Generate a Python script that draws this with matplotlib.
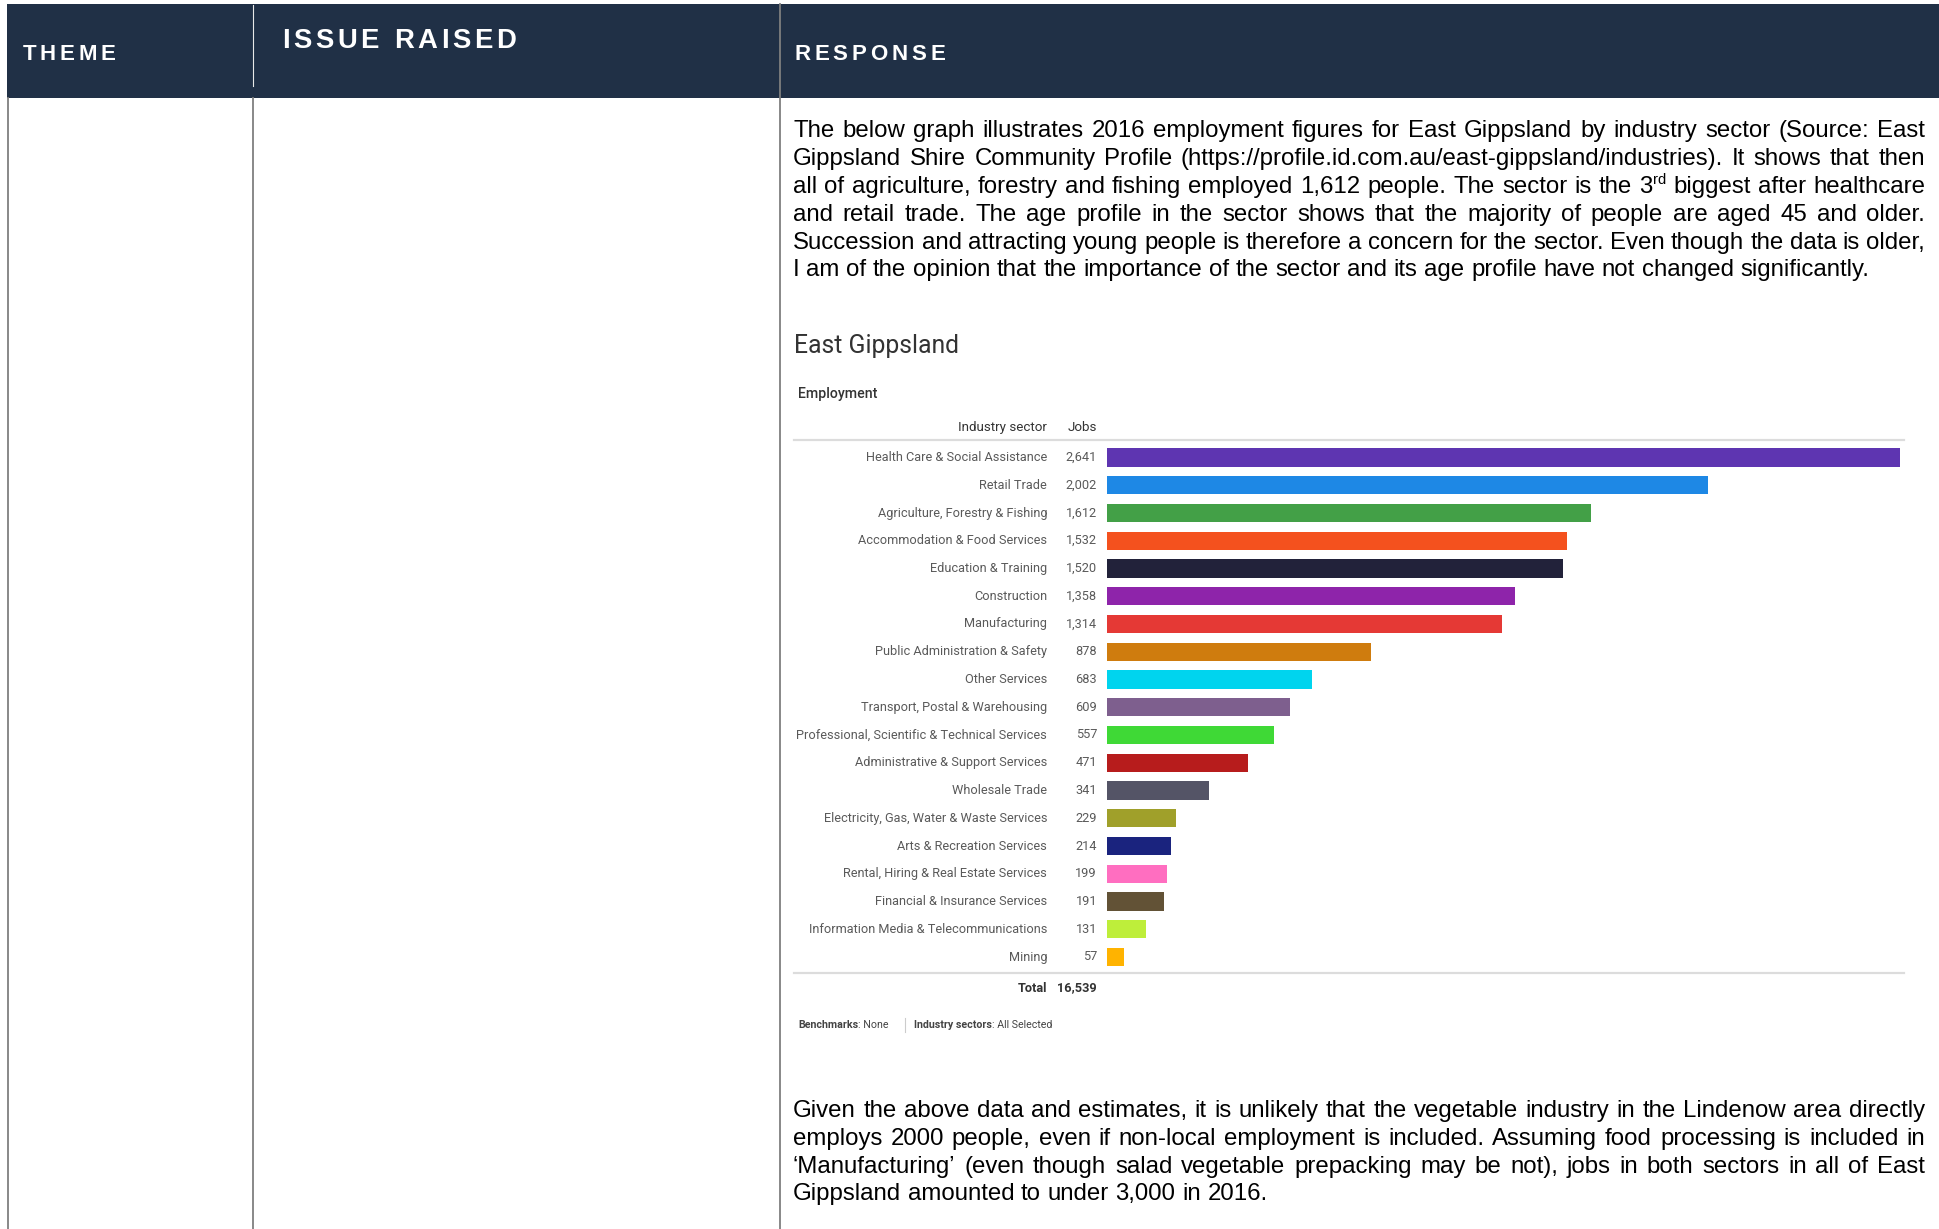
import matplotlib
matplotlib.use("Agg")
import matplotlib.pyplot as plt
from matplotlib.patches import Rectangle
from matplotlib.lines import Line2D

W, H = 1939, 1229
DPI = 100

# ---------------- data ----------------
sectors = [
    "Health Care & Social Assistance", "Retail Trade", "Agriculture, Forestry & Fishing",
    "Accommodation & Food Services", "Education & Training", "Construction", "Manufacturing",
    "Public Administration & Safety", "Other Services", "Transport, Postal & Warehousing",
    "Professional, Scientific & Technical Services", "Administrative & Support Services",
    "Wholesale Trade", "Electricity, Gas, Water & Waste Services", "Arts & Recreation Services",
    "Rental, Hiring & Real Estate Services", "Financial & Insurance Services",
    "Information Media & Telecommunications", "Mining",
]
jobs = [2641, 2002, 1612, 1532, 1520, 1358, 1314, 878, 683, 609, 557, 471, 341, 229, 214, 199, 191, 131, 57]
bar_colors = [
    "#5E35B1", "#1E88E5", "#43A047", "#F4511E", "#22223A", "#8E24AA", "#E53935",
    "#CF7C0E", "#00D4EE", "#7E5F8E", "#3FD936", "#B71C1C", "#545466", "#A0A02A",
    "#1A237E", "#FF6EC0", "#625236", "#BEEE3A", "#FFB300",
]
total_label = "16,539"
column_titles = ["THEME", "ISSUE RAISED", "RESPONSE"]
chart_title = "East Gippsland"
chart_subtitle = "Employment"

para1_lines = [
    "The below graph illustrates 2016 employment figures for East Gippsland by industry sector (Source: East",
    "Gippsland Shire Community Profile (https://profile.id.com.au/east-gippsland/industries). It shows that then",
    "all of agriculture, forestry and fishing employed 1,612 people. The sector is the 3^rd biggest after healthcare",
    "and retail trade. The age profile in the sector shows that the majority of people are aged 45 and older.",
    "Succession and attracting young people is therefore a concern for the sector. Even though the data is older,",
    "I am of the opinion that the importance of the sector and its age profile have not changed significantly.",
]
para2_lines = [
    "Given the above data and estimates, it is unlikely that the vegetable industry in the Lindenow area directly",
    "employs 2000 people, even if non-local employment is included. Assuming food processing is included in",
    "\u2018Manufacturing\u2019 (even though salad vegetable prepacking may be not), jobs in both sectors in all of East",
    "Gippsland amounted to under 3,000 in 2016.",
]

# ---------------- helpers ----------------
fig = plt.figure(figsize=(W / DPI, H / DPI), dpi=DPI)
fig.patch.set_facecolor("white")
renderer = fig.canvas.get_renderer()


def fx(x):
    return x / W


def fy(y):
    return 1 - y / H


def measure(s, **kw):
    t = fig.text(0, 0, s, **kw)
    w = t.get_window_extent(renderer).width
    t.remove()
    return w


def put(x, y, s, **kw):
    return fig.text(fx(x), fy(y), s, **kw)


def hline(x0, x1, y, color, lw):
    fig.add_artist(Line2D([fx(x0), fx(x1)], [fy(y), fy(y)], color=color, lw=lw))


def vline(x, y0, y1, color, lw):
    fig.add_artist(Line2D([fx(x), fx(x)], [fy(y0), fy(y1)], color=color, lw=lw))


def spaced(x, y, s, spacing, **kw):
    for ch in s:
        if ch != " ":
            put(x, y, ch, va="baseline", ha="left", **kw)
            x += measure(ch, **kw) + spacing
        else:
            x += measure("a a", **kw) - measure("aa", **kw) + spacing


BODY = dict(family=["Liberation Sans", "DejaVu Sans"], size=17.3, color="black")


def token_width(tok):
    if "^" in tok:
        a, b = tok.split("^")
        return measure(a, **BODY) + measure(b, **dict(BODY, size=BODY["size"] * 0.62))
    return measure(tok, **BODY)


def draw_token(tok, x, y):
    if "^" in tok:
        a, b = tok.split("^")
        put(x, y, a, va="baseline", **BODY)
        x2 = x + measure(a, **BODY)
        put(x2, y - 8.5, b, va="baseline", **dict(BODY, size=BODY["size"] * 0.62))
    else:
        put(x, y, tok, va="baseline", **BODY)


def justify(line, x0, x1, y, last=False):
    toks = line.split(" ")
    widths = [token_width(t) for t in toks]
    if last:
        gap = measure("a a", **BODY) - measure("aa", **BODY)
    else:
        gap = (x1 - x0 - sum(widths)) / (len(toks) - 1)
    x = x0
    for t, w in zip(toks, widths):
        draw_token(t, x, y)
        x += w + gap


# ---------------- table frame ----------------
fig.patches.append(Rectangle((fx(7), fy(98)), fx(1939) - fx(7), (98 - 4) / H,
                             transform=fig.transFigure, facecolor="#203046", edgecolor="none"))
grey = "#7f7f7f"
vline(7.5, 98, 1229, grey, 1.3)
vline(253.5, 98, 1229, grey, 1.3)
vline(780, 4, 1229, grey, 1.3)
vline(253.5, 5, 86, "#e8e8e8", 0.8)

HDR = dict(family=["Liberation Sans", "DejaVu Sans"], weight="bold", color="white")
spaced(22.5, 60, column_titles[0], 3.8, size=16, **HDR)
spaced(282, 48, column_titles[1], 3.6, size=19.8, **HDR)
spaced(794, 60, column_titles[2], 3.9, size=16, **HDR)

# ---------------- paragraphs ----------------
X0, X1 = 793, 1925
for i, ln in enumerate(para1_lines):
    justify(ln, X0, X1, 137 + 27.9 * i, last=(i == len(para1_lines) - 1))
for i, ln in enumerate(para2_lines):
    justify(ln, X0, X1, 1117 + 27.8 * i, last=(i == len(para2_lines) - 1))

# ---------------- chart ----------------
RB = ["Roboto", "DejaVu Sans"]
put(794, 346, chart_title, family=RB, size=17.8, color="#333333", va="center", ha="left")
put(798, 394, chart_subtitle, family=RB, size=10.2, weight="medium", color="#333333", va="center", ha="left")
put(1047, 427, "Industry sector", family=RB, size=9.6, color="#333333", va="center", ha="right")
put(1097, 427, "Jobs", family=RB, size=9.6, color="#333333", va="center", ha="right")
hline(794, 1904, 440, "#dcdcdc", 1.6)
hline(794, 1904, 973, "#dcdcdc", 1.6)

ax_top, ax_bot, ax_l, ax_r = 440, 973, 1107, 1900
pitch = 27.75
ax = fig.add_axes([fx(ax_l), fy(ax_bot), (ax_r - ax_l) / W, (ax_bot - ax_top) / H])
n = len(sectors)
ax.set_xlim(0, max(jobs))
ax.set_ylim((n - 1) + (ax_bot - 957) / pitch, -(457.5 - ax_top) / pitch)
ax.axis("off")
ypos = list(range(n))
ax.barh(ypos, jobs, height=0.65, color=bar_colors, edgecolor="none")
lab_x = (1047 - ax_l) / (ax_r - ax_l)
val_x = (1097 - ax_l) / (ax_r - ax_l)
tr = ax.get_yaxis_transform()
for yv, s, v in zip(ypos, sectors, jobs):
    ax.text(lab_x, yv, s, transform=tr, ha="right", va="center", family=RB, size=9.15,
            color="#5a5a5a", clip_on=False)
    ax.text(val_x, yv, f"{v:,}", transform=tr, ha="right", va="center", family=RB, size=9.15,
            color="#5a5a5a", clip_on=False)

put(1047, 988, "Total", family=RB, size=9.2, weight="bold", color="#333333", va="center", ha="right")
put(1097, 988, total_label, family=RB, size=9.2, weight="bold", color="#333333", va="center", ha="right")

# footer
FS = 7.7
FT = dict(family=RB, size=FS, color="#444444", va="center", ha="left")
x = 798
for s, wgt in [("Benchmarks", "bold"), (": None", "normal")]:
    put(x, 1025, s, weight=wgt, **FT)
    x += measure(s, weight=wgt, family=RB, size=FS)
vline(905, 1018, 1032, "#cccccc", 0.8)
x = 914
for s, wgt in [("Industry sectors", "bold"), (": All Selected", "normal")]:
    put(x, 1025, s, weight=wgt, **FT)
    x += measure(s, weight=wgt, family=RB, size=FS)

fig.savefig("out.png", dpi=DPI, facecolor="white")
